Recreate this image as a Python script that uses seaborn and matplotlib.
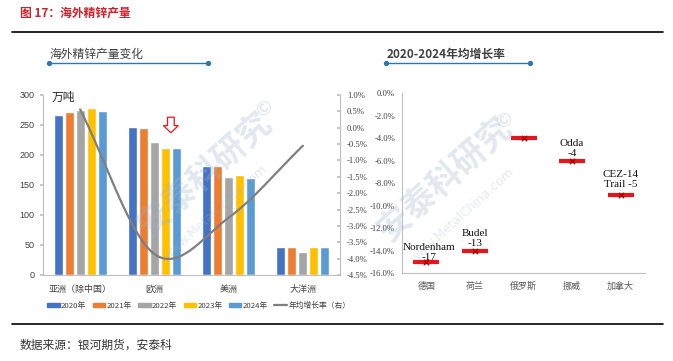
import matplotlib
matplotlib.use('Agg')
import matplotlib.pyplot as plt
import seaborn as sns
import numpy as np
import pandas as pd
from matplotlib import font_manager
from matplotlib.lines import Line2D
from matplotlib.patches import Patch, FancyArrow

# ---------------- data ----------------
regions = ['亚洲（除中国）', '欧洲', '美洲', '大洋洲']
years = ['2020年', '2021年', '2022年', '2023年', '2024年']
out_2020 = [267, 247, 181, 47]
out_2021 = [272, 245, 181, 47]
out_2022 = [275, 221, 164, 39]
out_2023 = [279, 212, 166, 47]
out_2024 = [273, 212, 162, 46]
growth = [0.56, -3.86, -2.75, -0.55]   # 年均增长率（右），%

countries = ['德国', '荷兰', '俄罗斯', '挪威', '加拿大']
country_growth = [-15, -14, -4, -6, -9]
smelter_labels = ['Nordenham\n-17', 'Budel\n-13', '', 'Odda\n-4', 'CEZ-14\nTrail -5']

year_colors = ['#4472C4', '#ED7D31', '#A5A5A5', '#FFC000', '#5B9BD5']
line_color = '#7F7F7F'
red = '#E8141C'

sns.set_theme(style='white')
plt.rcParams['font.family'] = ['Noto Sans CJK SC', 'DejaVu Sans']
names = {f.name for f in font_manager.fontManager.ttflist}
narrow = 'Liberation Sans Narrow' if 'Liberation Sans Narrow' in names else 'Liberation Sans'
serif = 'Liberation Serif'

df = pd.DataFrame({
    'region': regions * 5,
    'year': np.repeat(years, 4),
    'value': out_2020 + out_2021 + out_2022 + out_2023 + out_2024,
})


def smooth(y, n=60):
    """Catmull-Rom curve through the points (like Excel's smoothed line)."""
    y = np.asarray(y, float)
    p = np.r_[2 * y[0] - y[1], y, 2 * y[-1] - y[-2]]
    t = np.linspace(0, 1, n)
    xs, ys = [], []
    for i in range(len(y) - 1):
        p0, p1, p2, p3 = p[i:i + 4]
        m1, m2 = (p2 - p0) / 2, (p3 - p1) / 2
        h = ((2*t**3 - 3*t**2 + 1) * p1 + (t**3 - 2*t**2 + t) * m1
             + (-2*t**3 + 3*t**2) * p2 + (t**3 - t**2) * m2)
        xs.append(i + t)
        ys.append(h)
    return np.concatenate(xs), np.concatenate(ys)


fig = plt.figure(figsize=(6.73, 3.61), dpi=100)
W, H = 673, 361


def fx(px):
    return px / W


def fy(py):
    return 1 - py / H


# ---------------- left chart ----------------
ax = fig.add_axes([fx(43), fy(275), fx(297), 180 / H])
sns.barplot(data=df, x='region', y='value', hue='year', palette=year_colors,
            width=0.74, gap=0.17, ax=ax, legend=False, saturation=1)
ax.set_ylim(0, 300)
ax.set_xlim(-0.5, 3.5)
ax.set_yticks(range(0, 301, 50))
ax.set_xlabel('')
ax.set_ylabel('')
for s in ['top', 'right']:
    ax.spines[s].set_visible(False)
for s in ['left', 'bottom']:
    ax.spines[s].set_color('#BFBFBF')
    ax.spines[s].set_linewidth(0.8)
ax.tick_params(axis='y', length=2, color='#BFBFBF', labelsize=6.5, labelcolor='#404040', pad=4)
ax.tick_params(axis='x', length=0, labelsize=6.5, labelcolor='#404040', pad=7)
for lab in ax.get_yticklabels():
    lab.set_family(narrow)
ax.text(0.03, 0.985, '万吨', transform=ax.transAxes, fontsize=8.5, color='#262626',
        ha='left', va='center')

# hollow arrow above Europe 2023/2024
slot = 0.74 / 5
ax_x = 1 + 1.5 * slot
top = max(out_2023[1], out_2024[1]) + 51
ax.add_patch(FancyArrow(ax_x, top, 0, -26, width=0.09, head_width=0.2, head_length=12,
                        length_includes_head=True, fc='white', ec=red, lw=0.9, zorder=5))

ax2 = ax.twinx()
gx, gy = smooth(growth)
sns.lineplot(x=gx, y=gy, ax=ax2, color=line_color, linewidth=1.6, sort=False)
ax2.set_ylim(-4.5, 1.0)
ax2.set_yticks(np.arange(-4.5, 1.01, 0.5))
ax2.set_yticklabels([f'{v:.1f}%' for v in np.arange(-4.5, 1.01, 0.5)])
for s in ['top', 'left', 'bottom']:
    ax2.spines[s].set_visible(False)
ax2.spines['right'].set_color('#BFBFBF')
ax2.spines['right'].set_linewidth(0.8)
ax2.tick_params(axis='y', direction='in', length=2, color='#BFBFBF', labelsize=6.2,
                labelcolor='#404040', pad=5)
for lab in ax2.get_yticklabels():
    lab.set_family(serif)

# ---------------- right chart ----------------
bx = fig.add_axes([fx(402), fy(273.3), fx(243), 180 / H])
rdf = pd.DataFrame({'country': countries, 'rate': country_growth})
sns.scatterplot(data=rdf, x='country', y='rate', ax=bx, marker='_', s=330,
                linewidth=3, color=red, zorder=3)
sns.scatterplot(data=rdf, x='country', y='rate', ax=bx, marker='x', s=14,
                linewidth=1.1, color='#B00000', zorder=4)
bx.set_xlim(-0.5, 4.5)
bx.set_ylim(-16, 0)
bx.set_yticks(range(-16, 1, 2))
bx.set_yticklabels([f'{v:.1f}%' for v in range(-16, 1, 2)])
bx.set_xlabel('')
bx.set_ylabel('')
for s in ['top', 'right']:
    bx.spines[s].set_visible(False)
for s in ['left', 'bottom']:
    bx.spines[s].set_color('#BFBFBF')
    bx.spines[s].set_linewidth(0.8)
bx.tick_params(axis='y', length=2, color='#BFBFBF', labelsize=6.2, labelcolor='#404040', pad=3)
bx.tick_params(axis='x', length=0, labelsize=6.5, labelcolor='#595959', pad=6)
for lab in bx.get_yticklabels():
    lab.set_family(serif)
offsets = [0, 2, 0, 2, 4]
for i, (lab, v) in enumerate(zip(smelter_labels, country_growth)):
    if lab:
        bx.annotate(lab, (i, v), xytext=(2 if i == 0 else 0, offsets[i]),
                    textcoords='offset points', ha='center', va='bottom',
                    fontsize=8, family=serif, color='#111111', linespacing=1.2)

# ---------------- frame, titles, legend ----------------
fig.text(fx(20), fy(13), '图 17：海外精锌产量', fontsize=8.5, fontweight='bold',
         color='#D0202A', ha='left', va='center')
fig.add_artist(Line2D([fx(12), fx(663)], [fy(31.5), fy(31.5)], color='black', lw=1.2))
fig.add_artist(Line2D([fx(12), fx(663)], [fy(323.5), fy(323.5)], color='black', lw=1.2))
fig.text(fx(20), fy(345), '数据来源：银河期货，安泰科', fontsize=8.5, color='#333333',
         ha='left', va='center')

title_blue = '#2E75B6'
fig.text(fx(50), fy(54), '海外精锌产量变化', fontsize=8.5, color='#404040', ha='left', va='center')
fig.add_artist(Line2D([fx(49), fx(208)], [fy(62.5), fy(62.5)], color=title_blue, lw=1,
                      marker='o', markersize=2.8, markevery=[0, 1]))
fig.text(fx(387), fy(54), '2020-2024年均增长率', fontsize=8.5, fontweight='bold',
         color='#404040', ha='left', va='center')
fig.add_artist(Line2D([fx(386), fx(530)], [fy(62.5), fy(62.5)], color=title_blue, lw=1,
                      marker='o', markersize=2.8, markevery=[0, 1]))

handles = [Patch(color=c, label=y) for c, y in zip(year_colors, years)]
handles.append(Line2D([], [], color=line_color, lw=1.6, label='年均增长率（右）'))
fig.legend(handles=handles, loc='center left', bbox_to_anchor=(fx(44), fy(305.5)),
           ncol=6, frameon=False, fontsize=5.6, handlelength=1.6, handleheight=0.45,
           handletextpad=0.2, columnspacing=0.8, labelcolor='#404040', borderaxespad=0)

# faint watermark
wm = dict(color='#9FB3CB', alpha=0.3, rotation=42, ha='center', va='center',
          fontweight='bold', zorder=10)
fig.text(fx(205), fy(175), '安泰科研究', fontsize=24, **wm)
fig.text(fx(265), fy(108), '©', fontsize=14, **wm)
fig.text(fx(215), fy(212), 'www.MetalChina.com', fontsize=9, family='DejaVu Sans',
         color='#9FB3CB', alpha=0.28, rotation=42, ha='center', va='center', zorder=10)
fig.text(fx(445), fy(180), '安泰科研究', fontsize=24, **wm)
fig.text(fx(505), fy(120), '©', fontsize=14, **wm)
fig.text(fx(462), fy(215), 'www.MetalChina.com', fontsize=9, family='DejaVu Sans',
         color='#9FB3CB', alpha=0.28, rotation=42, ha='center', va='center', zorder=10)

fig.savefig('out.png', dpi=100, facecolor='white')
